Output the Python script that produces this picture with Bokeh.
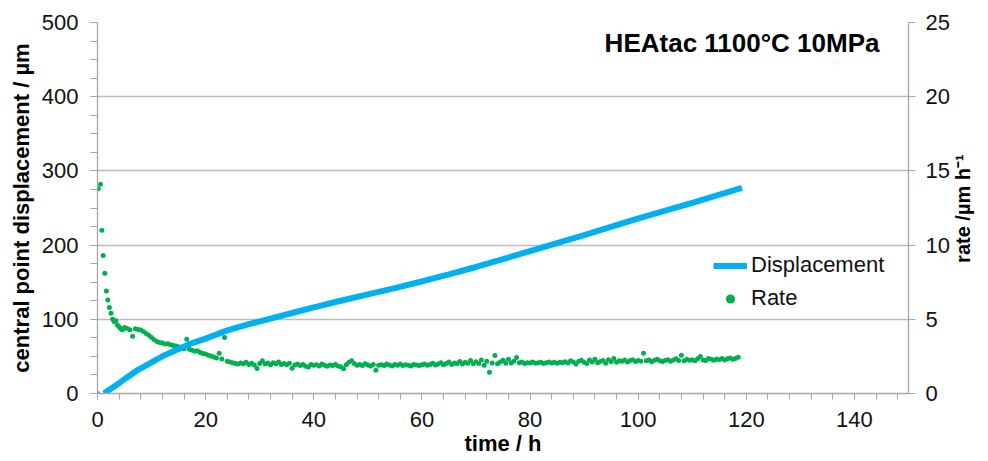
import math
from bokeh.plotting import figure
from bokeh.models import (Range1d, LinearAxis, SingleIntervalTicker, FixedTicker, Legend,
                          LegendItem, Label, ColumnDataSource)
from bokeh.embed import file_html
from bokeh.resources import INLINE

# ---------------- data ----------------
disp_time = [1.2, 2, 3, 4, 5.5, 7.5, 10, 12.5, 15, 17.5, 20, 24, 28, 32, 36, 40, 45,
             50, 55, 60.5, 65, 70, 75, 80, 90, 99.6, 110, 119.2]
disp_value = [0, 4, 9, 14, 22, 32, 42, 52, 60, 68, 74, 85, 93.5, 101, 108.5, 116, 125,
              133.5, 142, 152, 160.5, 170.5, 181, 192, 213.5, 235, 257, 277]
disp_start_time = [0]
disp_start_value = [0]

rate_time_early = [0.15, 0.55, 0.8, 1.05, 1.35, 1.65, 1.9, 2.2, 2.5, 2.8, 3.1, 3.4,
                   3.7, 4.0, 4.3, 4.6]
rate_value_early = [13.8, 14.1, 11.0, 9.3, 8.1, 6.9, 6.3, 5.8, 5.4, 5.0, 4.85, 4.9,
                    4.6, 4.5, 4.36, 4.3]

# rate sampled every 0.5 h from 5.0 h, one row per 5 h
rate_start = 5.0
rate_step = 0.5
rate_rows = [
    [4.45, 4.38, 4.3, 3.86, 4.36, 4.32, 4.28, 4.18, 4.05, 3.92],
    [3.78, 3.62, 3.5, 3.44, 3.4, 3.33, 3.36, 3.28, 3.24, 3.2],
    [3.15, 3.08, 3.02, 3.66, 2.98, 2.92, 2.85, 2.88, 2.76, 2.7],
    [2.66, 2.58, 2.52, 2.46, 2.4, 2.72, 2.32, 3.78, 2.18, 2.12],
    [2.08, 2.02, 1.98, 2.06, 2.0, 2.1, 1.96, 2.04, 1.92, 1.68],
    [2.02, 2.2, 1.98, 2.06, 1.94, 2.08, 2.0, 2.12, 1.96, 2.02],
    [1.94, 2.04, 1.7, 1.92, 1.98, 1.88, 1.96, 1.84, 1.78, 1.96],
    [1.9, 1.94, 1.86, 1.98, 1.9, 1.84, 1.92, 1.88, 1.96, 1.86],
    [1.8, 1.66, 1.94, 2.1, 2.2, 2.02, 1.9, 1.96, 1.88, 2.0],
    [1.92, 1.86, 1.96, 1.56, 1.9, 1.94, 1.88, 1.98, 1.92, 1.86],
    [1.96, 1.9, 1.98, 1.88, 1.94, 1.9, 1.86, 1.96, 1.92, 1.88],
    [1.94, 1.98, 1.9, 1.96, 2.04, 1.92, 1.98, 2.08, 1.94, 2.02],
    [2.12, 1.96, 2.06, 2.0, 2.16, 1.98, 2.1, 2.04, 2.22, 2.0],
    [2.14, 2.02, 2.26, 1.9, 2.18, 1.44, 2.06, 2.56, 2.0, 2.12],
    [2.24, 2.04, 2.3, 2.06, 2.18, 2.42, 2.08, 2.12, 2.02, 2.08],
    [2.06, 2.12, 2.04, 2.08, 2.1, 2.02, 2.08, 2.12, 2.06, 2.1],
    [2.04, 2.1, 2.08, 2.14, 2.06, 2.2, 2.12, 1.98, 2.18, 2.24],
    [2.1, 2.02, 2.26, 2.12, 2.3, 2.08, 2.16, 2.22, 2.04, 2.28],
    [2.14, 2.36, 2.1, 2.2, 2.18, 2.26, 2.12, 2.22, 2.28, 2.16],
    [2.22, 2.18, 2.72, 2.2, 2.26, 2.14, 2.24, 2.3, 2.2, 2.16],
    [2.22, 2.28, 2.18, 2.26, 2.34, 2.22, 2.58, 2.2, 2.3, 2.24],
    [2.28, 2.2, 2.34, 2.5, 2.26, 2.22, 2.36, 2.3, 2.24, 2.32],
    [2.28, 2.36, 2.26, 2.34, 2.4, 2.3, 2.36, 2.44],
]

title_text = "HEAtac 1100°C 10MPa"
x_label = "time / h"
y_label = "central point displacement / µm"
y2_label = "rate /µm h⁻¹"
y2_label_anchor = [8.8]   # rate value where the rotated right-hand title starts

# ---------------- build ----------------
rate_value = list(rate_value_early)
rate_time = list(rate_time_early)
k = 0
for row in rate_rows:
    for v in row:
        rate_time.append(rate_start + rate_step * k)
        rate_value.append(v)
        k += 1

BLUE = "#00b0f0"
GREEN = "#00b050"
AXIS_C = "#a6a6a6"
GRID_C = "#bdbdbd"
FONT = "Liberation Sans"
TXT = "#111111"

p = figure(width=988, height=461, output_backend="svg", toolbar_location=None,
           x_range=Range1d(0, 150), y_range=Range1d(0, 500),
           min_border_left=97, min_border_right=76, min_border_top=22,
           min_border_bottom=68, x_axis_location=None, y_axis_location=None)
p.outline_line_color = None
p.background_fill_color = "white"
p.border_fill_color = "white"
p.extra_y_ranges = {"rate": Range1d(0, 25)}

p.xgrid.visible = False
p.ygrid.grid_line_color = GRID_C
p.ygrid.grid_line_width = 1.3
p.ygrid.ticker = SingleIntervalTicker(interval=100, num_minor_ticks=4)

xaxis = LinearAxis(ticker=SingleIntervalTicker(interval=20, num_minor_ticks=5))
yaxis = LinearAxis(ticker=SingleIntervalTicker(interval=100, num_minor_ticks=4))
y2axis = LinearAxis(y_range_name="rate", ticker=SingleIntervalTicker(interval=5, num_minor_ticks=0))

for ax in (xaxis, yaxis, y2axis):
    ax.axis_line_color = AXIS_C
    ax.axis_line_width = 1.3
    ax.major_tick_line_color = AXIS_C
    ax.minor_tick_line_color = AXIS_C
    ax.major_tick_in = 0
    ax.minor_tick_in = 0
    ax.major_label_text_font = FONT
    ax.major_label_text_font_size = "22px"
    ax.major_label_text_color = TXT
    ax.axis_label_text_font = FONT
    ax.axis_label_text_font_style = "bold"
    ax.axis_label_text_font_size = "22px"
    ax.axis_label_text_color = "#000000"

xaxis.major_tick_out = 6
xaxis.minor_tick_out = 6
xaxis.major_label_standoff = 12
xaxis.axis_label = x_label
xaxis.axis_label_standoff = 1

yaxis.major_tick_out = 7
yaxis.minor_tick_out = 7
yaxis.major_label_standoff = 12
yaxis.axis_label = y_label
yaxis.axis_label_standoff = 5

y2axis.major_tick_out = 7
y2axis.minor_tick_out = 0
y2axis.major_label_standoff = 10

p.add_layout(xaxis, "below")
p.add_layout(yaxis, "left")
p.add_layout(y2axis, "right")

# right-hand axis title: a rotated label (reads bottom-to-top) on a bare extra axis
y2title = LinearAxis(y_range_name="rate",
                     ticker=FixedTicker(ticks=y2_label_anchor, minor_ticks=[]))
y2title.major_label_overrides = {y2_label_anchor[0]: y2_label}
y2title.major_label_orientation = math.pi / 2
y2title.axis_line_color = None
y2title.major_tick_line_color = None
y2title.minor_tick_line_color = None
y2title.major_tick_in = 0
y2title.major_tick_out = 0
y2title.minor_tick_in = 0
y2title.minor_tick_out = 0
y2title.major_label_standoff = 11
y2title.major_label_text_font = FONT
y2title.major_label_text_font_style = "bold"
y2title.major_label_text_font_size = "20px"
y2title.major_label_text_color = "#000000"
p.add_layout(y2title, "right")

rate_src = ColumnDataSource(dict(t=rate_time, r=rate_value))
r_rate = p.scatter("t", "r", source=rate_src, y_range_name="rate", size=5,
                   marker="circle", color=GREEN, line_width=0)

p.scatter(disp_start_time, disp_start_value, size=5, color=BLUE, line_width=0)
r_disp = p.line(disp_time, disp_value, line_color=BLUE, line_width=6)

legend = Legend(items=[LegendItem(label="Displacement", renderers=[r_disp]),
                       LegendItem(label="Rate", renderers=[r_rate])],
                location=(616, 82), orientation="vertical")
legend.border_line_color = None
legend.background_fill_alpha = 0
legend.padding = 0
legend.margin = 0
legend.spacing = 7
legend.glyph_width = 34
legend.glyph_height = 23
legend.label_height = 23
legend.label_standoff = 4
legend.label_text_font = FONT
legend.label_text_font_size = "22px"
legend.label_text_color = TXT
p.add_layout(legend, "center")

title = Label(x=782, y=351, x_units="screen", y_units="screen", text=title_text,
              text_font=FONT, text_font_style="bold", text_font_size="26px",
              text_align="right", text_baseline="middle", text_color="#000000")
p.add_layout(title)

open("out.html", "w").write(file_html(p, INLINE))
